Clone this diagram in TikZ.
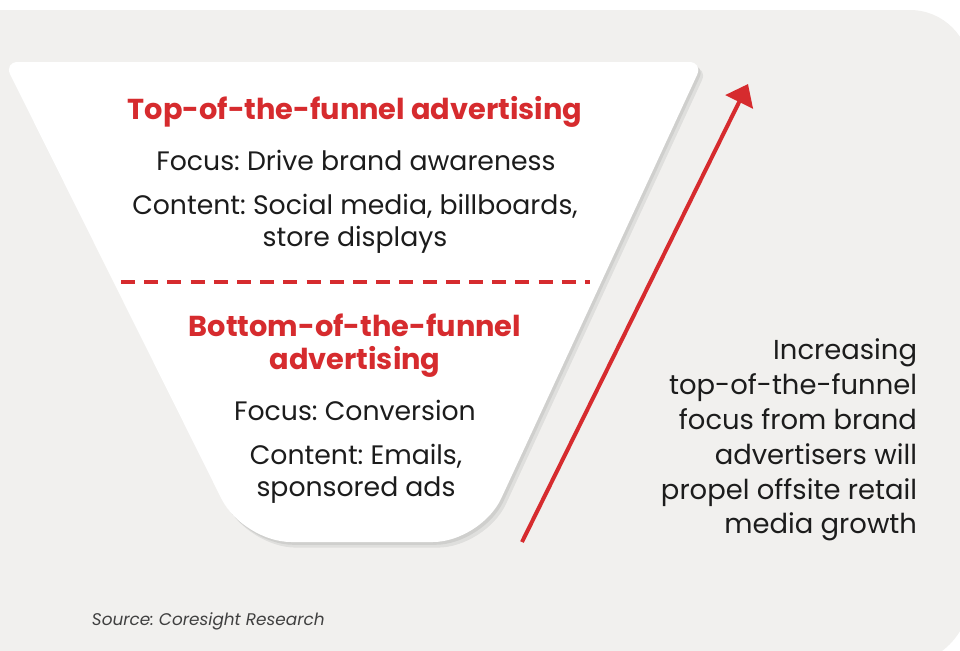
\documentclass[tikz,border=0pt]{standalone}
\usepackage{fontspec}
\setmainfont{Poppins}
\usepackage{tikz}
\usetikzlibrary{arrows.meta,positioning,shadows}
\definecolor{funnelred}{RGB}{214,43,46}
\definecolor{panelgray}{RGB}{241,240,238}
\definecolor{inkgray}{RGB}{28,28,28}
\frenchspacing

\begin{document}
\begin{tikzpicture}[
  x=0.25mm,y=-0.25mm,
  heading/.style={font=\fontsize{20.5}{23.5}\selectfont\bfseries,text=funnelred,align=center},
  body/.style={font=\fontsize{19}{22.7}\selectfont,text=inkgray,align=center},
  note/.style={font=\fontsize{19.5}{24.8}\selectfont,text=inkgray,align=right,anchor=east},
  divider/.style={funnelred,line width=1mm,dash pattern=on 3.5mm off 2.3mm},
  growth/.style={funnelred,line width=1mm,-{Triangle[length=5mm,width=7.5mm]}}
]
\useasboundingbox (0,0) rectangle (960,650);
\fill[panelgray,rounded corners=15mm] (-100,10) -- (970,10) [rounded corners=17.5mm] -- (970,665) -- (-100,665) -- cycle;

% funnel body
\path[fill=white,drop shadow={shadow xshift=1.2mm,shadow yshift=-1.4mm,fill=black,opacity=0.07},
  drop shadow={shadow xshift=0.6mm,shadow yshift=-0.7mm,fill=black,opacity=0.07},
  rounded corners=3.5mm] (4,62) -- (703,62) [rounded corners=12mm] -- (481,542) -- (243,542) [rounded corners=3.5mm] -- cycle;

\node[heading] (tophead) at (355,112) {Top-of-the-funnel advertising};
\node[body] (topfocus) at (356,160) {Focus: Drive brand awareness};
\node[body] (topcontent) at (355,224) {Content: Social media, billboards,\\store displays};

\draw[divider] (121,282) -- (590,282);

\node[heading] (bothead) at (355,346) {Bottom-of-the-funnel\\advertising};
\node[body] (botfocus) at (355,410) {Focus: Conversion};
\node[body] (botcontent) at (356,474) {Content: Emails,\\sponsored ads};

% growth arrow
\coordinate (growthfoot) at (522,542);
\coordinate (growthtip) at (748,84);
\draw[growth] (growthfoot) -- (growthtip);

\node[note] (growthnote) at (922,440) {Increasing\\top-of-the-funnel\\focus from brand\\advertisers will\\propel offsite retail\\media growth};

\node[anchor=west,font=\fontsize{12}{14}\selectfont\itshape,text=black!75] (source) at (87,621) {Source: Coresight Research};
\end{tikzpicture}
\end{document}
